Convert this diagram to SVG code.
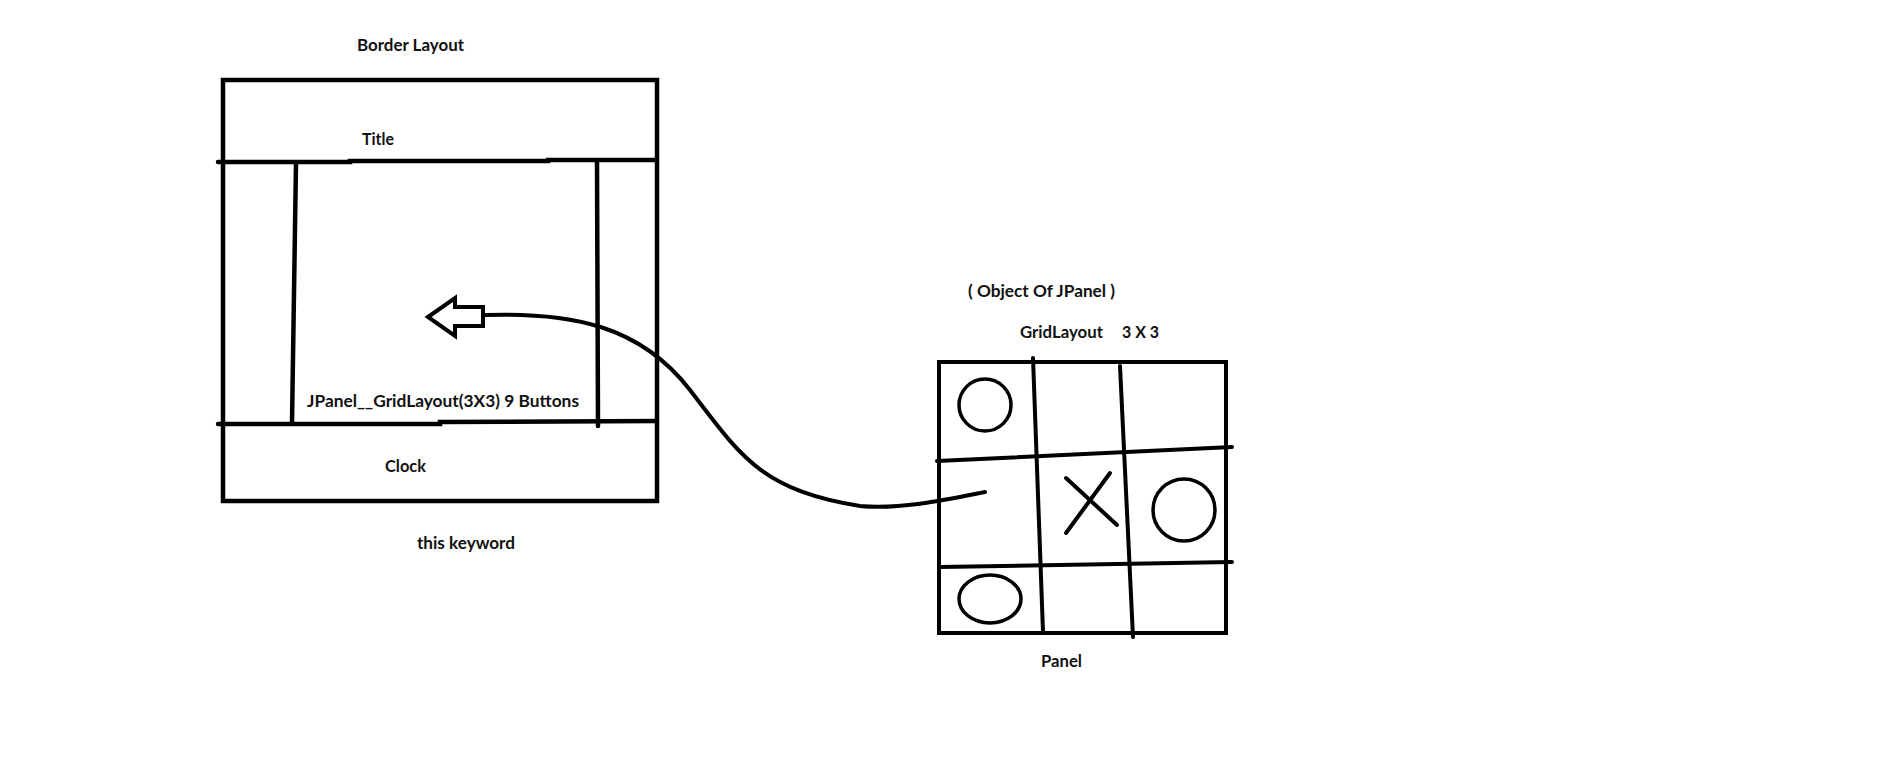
<svg xmlns="http://www.w3.org/2000/svg" width="1879" height="775" viewBox="0 0 1879 775">
<style>
.t{font-family:Lato,"Liberation Sans",sans-serif;font-weight:bold;font-size:17px;fill:#111}
.s{fill:none;stroke:#000;stroke-width:4.5;stroke-linecap:round;stroke-linejoin:miter}
.m{fill:none;stroke:#000;stroke-width:4;stroke-linecap:round}
.c{fill:none;stroke:#000;stroke-width:3.5}
</style>
<rect width="1879" height="775" fill="#fff"/>
<g id="border-layout">
<rect class="s" x="223" y="80" width="434" height="421" style="stroke-linecap:butt"/>
<polyline class="s" points="218,162 350,162 350,161 548,161 548,160 657,160"/>
<polyline class="s" points="218,424 440,424 440,422 657,421"/>
<line class="s" x1="296" y1="163" x2="292" y2="423"/>
<line class="s" x1="597" y1="162" x2="598" y2="426"/>
<text class="t" x="357" y="51" textLength="107" lengthAdjust="spacingAndGlyphs">Border Layout</text>
<text class="t" x="362" y="145" textLength="32" lengthAdjust="spacingAndGlyphs">Title</text>
<text class="t" x="307" y="407" textLength="272" lengthAdjust="spacingAndGlyphs">JPanel__GridLayout(3X3) 9 Buttons</text>
<text class="t" x="385" y="472" textLength="41" lengthAdjust="spacingAndGlyphs">Clock</text>
<text class="t" x="417" y="549" textLength="98" lengthAdjust="spacingAndGlyphs">this keyword</text>
</g>
<g id="panel">
<rect class="m" x="939" y="362" width="287" height="271" style="stroke-linecap:butt"/>
<line class="m" x1="937" y1="461" x2="1232" y2="447"/>
<line class="m" x1="940" y1="567" x2="1232" y2="562"/>
<line class="m" x1="1033" y1="358" x2="1043" y2="632"/>
<line class="m" x1="1120" y1="366" x2="1133" y2="637"/>
<circle class="c" cx="985" cy="405" r="26"/>
<ellipse class="c" cx="1184" cy="510" rx="31" ry="31"/>
<ellipse class="c" cx="990" cy="599" rx="31" ry="24"/>
<line class="m" x1="1066" y1="478" x2="1117" y2="525"/>
<line class="m" x1="1110" y1="473" x2="1066" y2="533"/>
<text class="t" x="968" y="297" textLength="147" lengthAdjust="spacingAndGlyphs">( Object Of JPanel )</text>
<text class="t" x="1020" y="338" textLength="83" lengthAdjust="spacingAndGlyphs">GridLayout</text>
<text class="t" x="1122" y="338" textLength="37" lengthAdjust="spacingAndGlyphs">3 X 3</text>
<text class="t" x="1041" y="667" textLength="41" lengthAdjust="spacingAndGlyphs">Panel</text>
</g>
<g id="connectors">
<path class="m" d="M485,315 C570,312 640,325 690,390 S760,490 860,506 C900,510 950,499 985,492"/>
<polygon class="m" points="428,317 455,298 455,307 483,307 483,326 455,326 455,336" style="stroke-linejoin:miter"/>
</g>
</svg>
